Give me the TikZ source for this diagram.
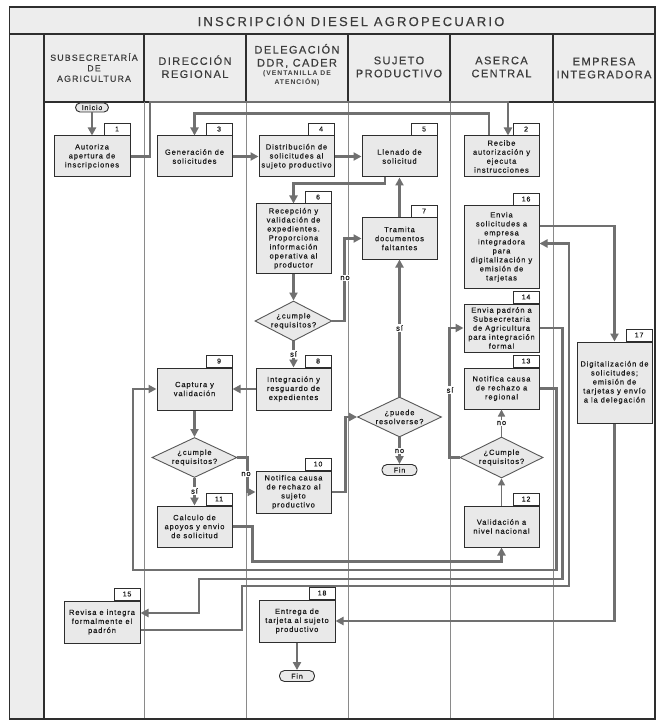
\documentclass[tikz,border=0pt]{standalone}
\usepackage{fontspec}
\setmainfont{Liberation Sans}
\newfontfamily\bxf[LetterSpace=12,FakeBold=0.5]{Liberation Sans}
\newfontfamily\hdf[LetterSpace=13,FakeBold=0.4]{Liberation Sans}
\newfontfamily\hdsf[LetterSpace=14]{Liberation Sans Bold}
\newfontfamily\ttlf[LetterSpace=17,FakeBold=0.3]{Liberation Sans}
\usetikzlibrary{arrows.meta,shapes.geometric}
\definecolor{boxfill}{HTML}{E9E9E9}
\definecolor{linegray}{HTML}{707070}
\definecolor{hdrfill}{HTML}{EDEDED}
\definecolor{edge}{HTML}{2E2E2E}
\definecolor{lanegray}{HTML}{8A8A8A}
\definecolor{txt}{HTML}{1A1A1A}
\tikzset{
 proc/.style={draw=edge, line width=1pt, fill=boxfill, minimum width=75pt, minimum height=41pt, inner sep=0pt, align=center, font=\bxf\fontsize{7.5}{9}\selectfont, text=txt},
 tabn/.style={draw=edge, line width=0.9pt, fill=white, minimum width=26pt, minimum height=12pt, inner sep=0pt, anchor=south east, font=\bxf\fontsize{7}{8}\selectfont, text=txt},
 dia/.style={diamond, draw=edge!80, line width=0.9pt, fill=boxfill, inner sep=0pt},
 diatxt/.style={align=center, inner sep=0pt, font=\bxf\fontsize{7.5}{9}\selectfont, text=txt},
 term/.style={draw=edge, line width=0.9pt, fill=boxfill, rounded corners=5pt, minimum width=35pt, minimum height=11pt, inner sep=0pt, font=\bxf\fontsize{7}{8}\selectfont, text=txt},
 conn/.style={draw=linegray, line width=2.4pt, -{Triangle[length=8pt,width=8pt]}},
 thinconn/.style={draw=linegray, line width=1.4pt, -{Triangle[length=7pt,width=7pt]}},
 lbl/.style={fill=white, inner sep=1pt, font=\bxf\fontsize{7.5}{9}\selectfont, text=txt},
 hdr/.style={align=center, text=txt!85!white, inner sep=0pt, font=\hdf\fontsize{11}{13}\selectfont},
 cell/.style={draw=edge, line width=1.2pt, fill=hdrfill},
}
\begin{document}
\begin{tikzpicture}[x=1pt,y=-1pt]
\useasboundingbox (0,0) rectangle (664,727);
\fill[white] (0,0) rectangle (664,727);
% title bar
\draw[cell] (9.5,7) rectangle (655,34);
\node[font=\ttlf\fontsize{13}{15}\selectfont, text=txt!85!white] (title) at (351,20.5) {INSCRIPCIÓN DIESEL AGROPECUARIO};
% left column
\draw[cell] (9.5,34) rectangle (44,719);
% header cells
\foreach \a/\b in {44/144,144/246,246/348,348/450,450/553,553/655}
  \draw[cell] (\a,34) rectangle (\b,102);
% lane lines
\foreach \x in {144,246,348,450,553}
  \draw[lanegray, line width=0.8pt] (\x,102) -- (\x,719);
\draw[edge, line width=1.5pt] (9.5,7) rectangle (655,719);
% headers
\node[hdr, font=\hdf\fontsize{8.8}{10.5}\selectfont] (h1) at (94,67.5) {SUBSECRETARÍA\\DE\\AGRICULTURA};
\node[hdr] (h2) at (195,66.7) {DIRECCIÓN\\REGIONAL};
\node[hdr] (h3) at (297,56) {DELEGACIÓN\\DDR, CADER};
\node[hdr, font=\hdsf\fontsize{6.8}{8.8}\selectfont] (h3b) at (297,78.5) {(VENTANILLA DE\\ATENCIÓN)};
\node[hdr] (h4) at (399,67) {SUJETO\\PRODUCTIVO};
\node[hdr] (h5) at (501.5,67) {ASERCA\\CENTRAL};
\node[hdr] (h6) at (604,68) {EMPRESA\\INTEGRADORA};

% nodes
\node[term] (ini) at (92,107.5) [minimum width=33pt, minimum height=9pt, rounded corners=4.5pt] {Inicio};
\node[proc, minimum width=76pt] (b1) at (92,156.5) {Autoriza\\apertura de\\inscripciones};
\node[proc] (b3) at (194.5,156.5) {Generación de\\solicitudes};
\node[proc] (b4) at (296.5,156.5) {Distribución de\\solicitudes al\\sujeto productivo};
\node[proc] (b5) at (399.5,156.5) {Llenado de\\solicitud};
\node[proc] (b2) at (501.5,156.5) {Recibe\\autorización y\\ejecuta\\instrucciones};
\node[proc, minimum height=69pt] (b6) at (293.5,238.5) {Recepción y\\validación de\\expedientes.\\Proporciona\\información\\operativa al\\productor};
\node[proc] (b7) at (399.5,238.5) {Tramita\\documentos\\faltantes};
\node[proc, minimum height=82pt] (b16) at (501.5,247) {Envia\\solicitudes a\\empresa\\integradora\\para\\digitalización y\\emisión de\\tarjetas};
\node[dia, minimum width=77pt, minimum height=40pt] (d1) at (293.5,321) {};
\node[diatxt] (d1t) at (d1) {¿cumple\\requisitos?};
\node[proc, minimum height=48pt] (b14) at (501.5,328) {Envia padrón a\\Subsecretaria\\de Agricultura\\para integración\\formal};
\node[proc, minimum height=42pt] (b8) at (293.5,389) {Integración y\\resguardo de\\expedientes};
\node[proc, minimum height=42pt] (b9) at (194.5,389) {Captura y\\validación};
\node[proc] (b13) at (501.5,388.5) {Notifica causa\\de rechazo a\\regional};
\node[proc, minimum height=81pt] (b17) at (614.5,382.5) {Digitalización de\\solicitudes;\\emisión de\\tarjetas y envío\\a la delegación};
\node[dia, minimum width=84pt, minimum height=40pt] (d4) at (399.5,417) {};
\node[diatxt] (d4t) at (d4) {¿puede\\resolverse?};
\node[term] (fin1) at (399.5,470) {Fin};
\node[dia, minimum width=85pt, minimum height=40pt] (d2) at (194.5,457.5) {};
\node[diatxt] (d2t) at (d2) {¿cumple\\requisitos?};
\node[dia, minimum width=83pt, minimum height=41pt] (d3) at (501.5,457.5) {};
\node[diatxt] (d3t) at (d3) {¿Cumple\\requisitos?};
\node[proc, minimum height=42pt] (b10) at (293.5,492) {Notifica causa\\de rechazo al\\sujeto\\productivo};
\node[proc] (b11) at (194.5,526.5) {Calculo de\\apoyos y envio\\de solicitud};
\node[proc] (b12) at (501.5,526.5) {Validación a\\nivel nacional};
\node[proc, minimum width=76pt, minimum height=42pt] (b15) at (102,622) {Revisa e integra\\formalmente el\\padrón};
\node[proc, minimum width=76pt, minimum height=42pt] (b18) at (297,621) {Entrega de\\tarjeta al sujeto\\productivo};
\node[term] (fin2) at (297,676) {Fin};

% tabs
\node[tabn] (t1) at (b1.north east) {1};
\node[tabn] (t2) at (b2.north east) {2};
\node[tabn] (t3) at (b3.north east) {3};
\node[tabn] (t4) at (b4.north east) {4};
\node[tabn] (t5) at (b5.north east) {5};
\node[tabn] (t6) at (b6.north east) {6};
\node[tabn] (t7) at (b7.north east) {7};
\node[tabn] (t8) at (b8.north east) {8};
\node[tabn] (t9) at (b9.north east) {9};
\node[tabn] (t10) at (b10.north east) {10};
\node[tabn] (t11) at (b11.north east) {11};
\node[tabn] (t12) at (b12.north east) {12};
\node[tabn] (t13) at (b13.north east) {13};
\node[tabn] (t14) at (b14.north east) {14};
\node[tabn] (t15) at (b15.north east) {15};
\node[tabn] (t16) at (b16.north east) {16};
\node[tabn] (t17) at (b17.north east) {17};
\node[tabn] (t18) at (b18.north east) {18};

% connectors
\draw[conn] (ini.south) -- (b1.north);
\draw[conn] (b1.east) -| (150,102) -| ([xshift=6.5pt]b2.north);
\draw[conn] ([xshift=-12.5pt]b2.north) |- ([yshift=22pt]b3.north) -- (b3.north);
\draw[conn] (b3.east) -- (b4.west);
\draw[conn] (b4.east) -- (b5.west);
\draw[conn] ([xshift=-14.5pt]b5.south) |- ([yshift=20pt]b6.north) -- (b6.north);
\draw[conn] (b6.south) -- (d1.north);
\draw[conn] (d1.east) -| ([xshift=-17pt]b7.west) -- (b7.west);
\draw[conn] (d1.south) -- (b8.north);
\draw[conn] (b8.west) -- (b9.east);
\draw[conn] (b9.south) -- (d2.north);
\draw[conn] (d2.east) -- ++(10,0) |- (b10.west);
\draw[conn] (d2.south) -- (b11.north);
\draw[conn] (b10.east) -- ++(14,0) |- (d4.west);
\draw[conn] (d4.north) -- (b7.south);
\draw[conn] (b7.north) -- (b5.south);
\draw[conn] (d4.south) -- (fin1.north);
\draw[conn] (b11.east) -- ++(20,0) |- ([yshift=-14pt]b12.south) -- (b12.south);
\draw[thinconn] (b12.north) -- (d3.south);
\draw[thinconn] (d3.north) -- (b13.south);
\draw[conn] (d3.west) -- ++(-10,0) |- (b14.west);
\draw[conn] (b13.east) -- ++(17,0) |- (133,570) |- (b9.west);
\draw[conn] (b14.east) -- ++(23,0) |- (199,579) |- ([yshift=9pt]b15.east);
\draw[conn] ([yshift=-8pt]b15.east) -| (242,586) -| (569,243.5) -- ([yshift=3.5pt]b16.east);
\draw[conn] ([yshift=21pt]b16.east) -| (b17.north);
\draw[conn] (b17.south) |- (b18.east);
\draw[conn] (b18.south) -- (fin2.north);

% labels
\node[lbl] (l1) at (345,278) {no};
\node[lbl] (l2) at (293.5,354) {sí};
\node[lbl] (l3) at (246,474) {no};
\node[lbl] (l4) at (194.5,491) {sí};
\node[lbl] (l5) at (399.5,328) {sí};
\node[lbl] (l6) at (399.5,451) {no};
\node[lbl] (l7) at (501.5,423) {no};
\node[lbl] (l8) at (450,390) {sí};
\end{tikzpicture}
\end{document}
